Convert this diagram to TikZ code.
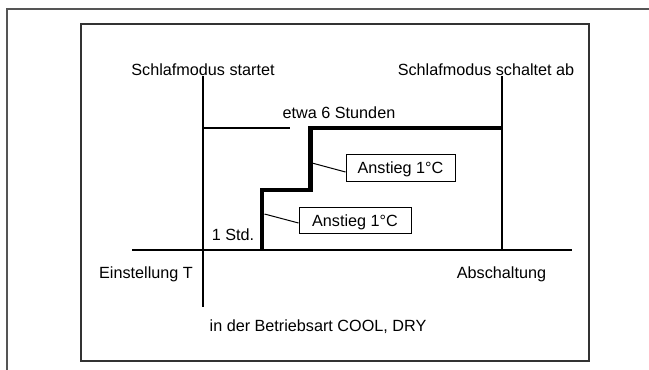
\documentclass[tikz,border=0pt]{standalone}
\usepackage{fontspec}
\setmainfont{Liberation Sans}
\definecolor{outergray}{HTML}{555555}
\definecolor{framegray}{HTML}{333333}
\begin{document}
\begin{tikzpicture}[x=1pt,y=-1pt,
  lbl/.style={font=\fontsize{16.2}{18}\selectfont, inner sep=0pt},
  axisline/.style={line width=2pt, black},
  ramp/.style={line width=4.6pt, line join=miter, black},
  callout/.style={draw, line width=1pt, lbl, text height=12pt, text depth=0pt},
  leader/.style={line width=1pt},
  outerframe/.style={line width=1.4pt, outergray},
  innerframe/.style={line width=1.3pt, framegray}]
\useasboundingbox (0,0) rectangle (649,370);
% frames
\coordinate (oBL) at (7,370);
\coordinate (oTL) at (7,9);
\coordinate (oTR) at (649,9);
\draw[outerframe] (oBL) -- (oTL) -- (oTR);
\draw[innerframe] (81,24) rectangle (589,361);
% texts
\node[lbl, anchor=base] (start) at (203,75) {Schlafmodus startet};
\node[lbl, anchor=base] (stop) at (486,75) {Schlafmodus schaltet ab};
\node[lbl, anchor=base] (six) at (339,118) {etwa 6 Stunden};
\node[lbl, anchor=base] (onehr) at (233,240) {1 Std.};
\node[lbl, anchor=base] (setT) at (146,278) {Einstellung T};
\node[lbl, anchor=base] (off) at (501.5,278) {Abschaltung};
\node[lbl, anchor=base] (mode) at (318,331.5) {in der Betriebsart COOL, DRY};
% axes
\coordinate (lvTop) at (203,76);
\coordinate (lvBot) at (203,307);
\coordinate (rvTop) at (502,76);
\coordinate (rvBot) at (502,250);
\coordinate (bL) at (132,250);
\coordinate (bR) at (572,250);
\coordinate (hL) at (203,128);
\coordinate (hR) at (290,128);
\draw[axisline] (lvTop) -- (lvBot);
\draw[axisline] (rvTop) -- (rvBot);
\draw[axisline] (bL) -- (bR);
\draw[axisline] (hL) -- (hR);
% ramp
\coordinate (s0) at (262,250);
\coordinate (s1) at (262,190);
\coordinate (s2) at (310.3,190);
\coordinate (s3) at (310.3,128);
\coordinate (s4) at (502,128);
\draw[ramp] (s0) -- (s1) -- (s2) -- (s3) -- (s4);
% callouts
\node[callout, minimum width=109pt, minimum height=27pt] (a1) at (400.5,167.5) {Anstieg 1°C};
\node[callout, minimum width=112pt, minimum height=26pt] (a2) at (355,220) {Anstieg 1°C};
\coordinate (l1) at (312,163);
\coordinate (l2) at (264.5,214);
\draw[leader] (l1) -- ([yshift=-4.5pt]a1.west);
\draw[leader] (l2) -- ([yshift=-3pt]a2.west);
\end{tikzpicture}
\end{document}
